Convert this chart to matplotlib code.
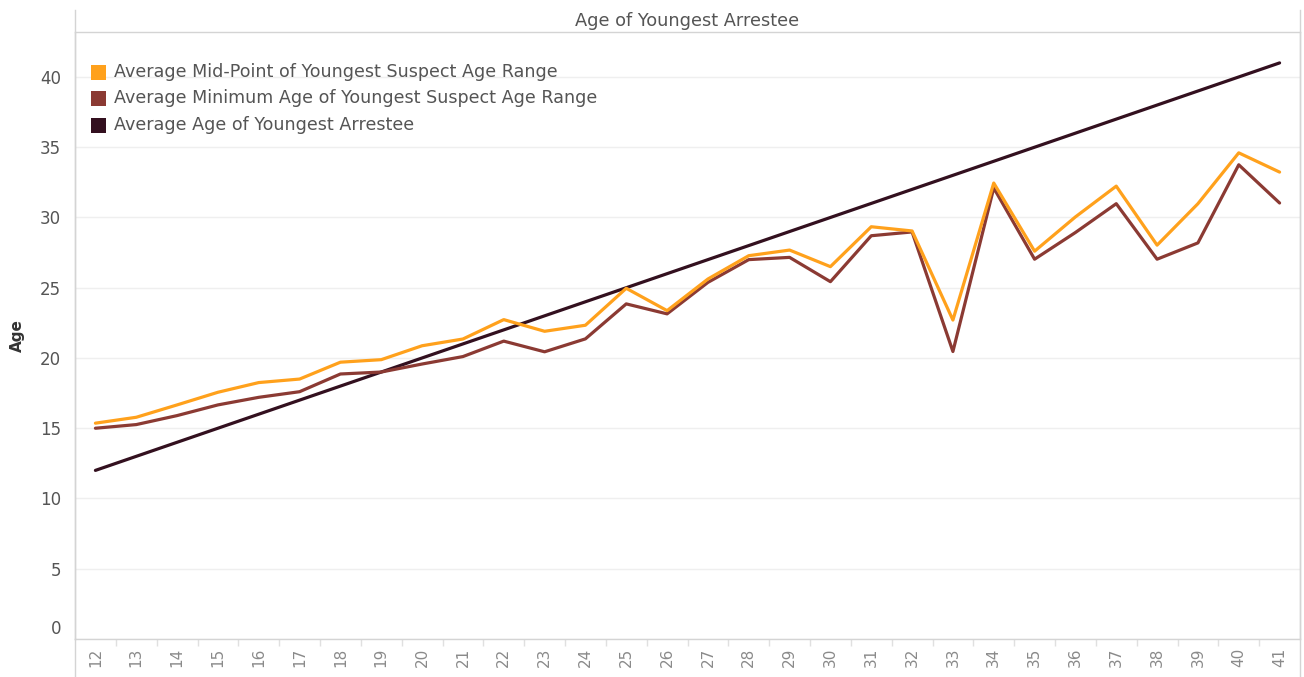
import matplotlib
matplotlib.use("Agg")
import matplotlib.pyplot as plt
import matplotlib.transforms as mtransforms
from matplotlib.lines import Line2D
from matplotlib.patches import Rectangle

plt.rcParams['font.family'] = ['DejaVu Sans']

ages = list(range(12, 42))
mid_point = [15.36, 15.78, 16.66, 17.56, 18.25, 18.5, 19.7, 19.88, 20.87, 21.35,
             22.73, 21.9, 22.33, 24.96, 23.37, 25.62, 27.28, 27.68, 26.5, 29.34,
             29.04, 22.7, 32.45, 27.6, 30.04, 32.23, 28.03, 30.98, 34.6, 33.23]
minimum = [15.0, 15.26, 15.9, 16.66, 17.2, 17.6, 18.86, 19.0, 19.57, 20.1,
           21.2, 20.44, 21.36, 23.85, 23.14, 25.38, 27.0, 27.16, 25.43, 28.7,
           28.97, 20.46, 32.1, 27.03, 28.93, 30.98, 27.03, 28.19, 33.75, 31.03]
arrestee = [12, 13, 14, 15, 16, 17, 18, 19, 20, 21, 22, 23, 24, 25, 26, 27, 28, 29,
            30, 31, 32, 33, 34, 35, 36, 37, 38, 39, 40, 41]
series_names = ["Average Mid-Point of Youngest Suspect Age Range",
                "Average Minimum Age of Youngest Suspect Age Range",
                "Average Age of Youngest Arrestee"]
colors = ["#FFA11C", "#8B3A33", "#33101F"]
y_ticks = [0, 5, 10, 15, 20, 25, 30, 35, 40]
title = "Age of Youngest Arrestee"

W, H = 1304, 677
fig = plt.figure(figsize=(W / 100, H / 100), dpi=100)
L, R, T, B = 75, 1300, 32, 639
ax = fig.add_axes([L / W, 1 - B / H, (R - L) / W, (B - T) / H])

for yv in y_ticks:
    ax.axhline(yv, color="#efefef", lw=1, zorder=0)

ax.plot(ages, arrestee, color=colors[2], lw=2.3, zorder=3, solid_capstyle='round')
ax.plot(ages, minimum, color=colors[1], lw=2.3, zorder=4, solid_capstyle='round')
ax.plot(ages, mid_point, color=colors[0], lw=2.3, zorder=5, solid_capstyle='round')

ax.set_xlim(11.5, 41.5)
ax.set_ylim(0, 43.2)
ax.set_yticks(y_ticks)
ax.set_yticklabels([str(v) for v in y_ticks])
ax.tick_params(axis='y', length=0, pad=10, labelsize=12, labelcolor="#555555")
ax.set_xticks(ages)
ax.set_xticklabels([str(a) for a in ages], rotation=90)
ax.tick_params(axis='x', which='major', length=0, pad=6, labelsize=11, labelcolor="#8a8a8a")
ax.set_xticks([a + 0.5 for a in ages[:-1]], minor=True)
ax.tick_params(axis='x', which='minor', length=5, color="#e0e0e0", width=1)

for lab in ax.get_yticklabels():
    if lab.get_text() == "0":
        lab.set_transform(lab.get_transform() + mtransforms.ScaledTranslation(0, 12 / 100, fig.dpi_scale_trans))

for s in ["left", "right", "top", "bottom"]:
    ax.spines[s].set_color("#d4d4d4")
    ax.spines[s].set_linewidth(1)

ax.set_ylabel("Age", fontsize=11, color="#333333", fontweight='bold', labelpad=11)

# vertical frame lines extending above and below the plot area
fig.add_artist(Line2D([L / W, L / W], [1 - 10 / H, 1 - B / H], color="#d4d4d4", lw=1))
fig.add_artist(Line2D([L / W, L / W], [1 - B / H, 0], color="#d4d4d4", lw=1))
fig.add_artist(Line2D([R / W, R / W], [1 - 10 / H, 0], color="#d4d4d4", lw=1))

fig.text((L + R) / 2 / W, 1 - 21 / H, title, ha='center', va='center',
         fontsize=12.8, color="#555555")

# legend
leg_y = [72, 98, 125]
for name, c, yy in zip(series_names, colors, leg_y):
    fig.add_artist(Rectangle(((91) / W, 1 - (yy + 7.5) / H), 15 / W, 15 / H,
                             transform=fig.transFigure, facecolor=c, edgecolor='none'))
    fig.text(114 / W, 1 - yy / H, name, ha='left', va='center', fontsize=12.6, color="#555555")

fig.savefig("out.png", dpi=100)
